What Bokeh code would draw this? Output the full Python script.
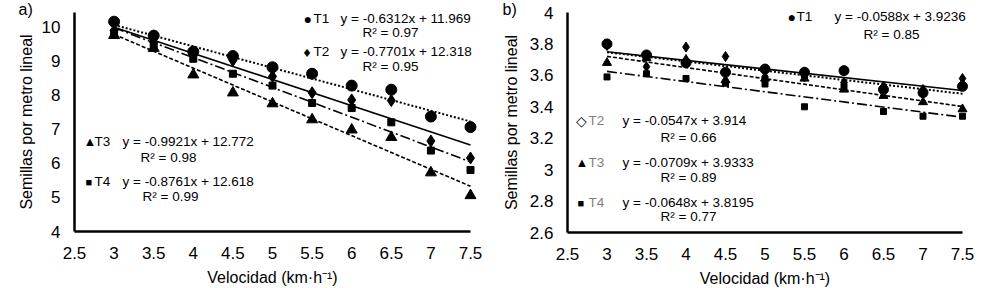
import numpy as np
from bokeh.plotting import figure
from bokeh.models import Label, FixedTicker, NumeralTickFormatter, Range1d, LinearAxis
from bokeh.layouts import row
from bokeh.embed import file_html
from bokeh.resources import INLINE

# ---------------- data ----------------
speed = [3, 3.5, 4, 4.5, 5, 5.5, 6, 6.5, 7, 7.5]
treatments = ["T1", "T2", "T3", "T4"]

a_T1 = [10.17, 9.76, 9.29, 9.16, 8.83, 8.64, 8.29, 8.17, 7.38, 7.07]
a_T2 = [9.91, 9.57, 9.23, 9.03, 8.56, 8.08, 7.87, 7.85, 6.66, 6.16]
a_T3 = [9.77, 9.39, 8.61, 8.08, 7.76, 7.29, 6.99, 6.77, 5.73, 5.06]
a_T4 = [9.85, 9.50, 9.08, 8.64, 8.29, 7.78, 7.63, 7.21, 6.38, 5.81]
a_slope = [-0.6312, -0.7701, -0.9921, -0.8761]
a_intercept = [11.969, 12.318, 12.772, 12.618]
a_r2 = ["0.97", "0.95", "0.98", "0.99"]

b_T1 = [3.80, 3.73, 3.68, 3.62, 3.64, 3.62, 3.63, 3.51, 3.49, 3.53]
b_T2 = [3.79, 3.655, 3.78, 3.72, 3.59, 3.59, 3.555, 3.53, 3.51, 3.58]
b_T3 = [3.68, 3.71, 3.70, 3.57, 3.58, 3.58, 3.51, 3.47, 3.43, 3.385]
b_T4 = [3.59, 3.61, 3.58, 3.55, 3.545, 3.40, 3.53, 3.37, 3.34, 3.34]
b_slope = [-0.0588, -0.0547, -0.0709, -0.0648]
b_intercept = [3.9236, 3.914, 3.9333, 3.8195]
b_r2 = ["0.85", "0.66", "0.89", "0.77"]

x_ticks = [2.5, 3, 3.5, 4, 4.5, 5, 5.5, 6, 6.5, 7, 7.5]
a_y_ticks = [4, 5, 6, 7, 8, 9, 10]
b_y_ticks = [2.6, 2.8, 3.0, 3.2, 3.4, 3.6, 3.8, 4.0]

# ---------------- styles ----------------
FONT = "Liberation Sans"
markers = ["circle", "diamond", "triangle", "square"]
dashes = ["2 2", "solid", "4 2", "10 3 2 3"]
key_glyph_a = ["\u25CF", "\u2666", "\u25B2", "\u25A0"]
key_glyph_b = ["\u25CF", "\u25C7", "\u25B2", "\u25A0"]
key_size = ["14px", "14px", "13px", "11px"]
W, H = 494, 288


def make_panel(series, slopes, intercepts, r2s, yr, yticks, frame, msizes,
               ann, keys, tag, tag_pos, gray_names, ylab_standoff):
    left, right, top, bottom = frame
    x0, x1 = 2.5, 7.5
    y0, y1 = yr
    xs = (x1 - x0) / (right - left)
    ys_ = (y1 - y0) / (bottom - top)
    p = figure(width=W, height=H, output_backend="svg", toolbar_location=None,
               x_range=Range1d(x0 - left * xs, x1 + (W - right) * xs),
               y_range=Range1d(y0 - (H - bottom) * ys_, y1 + top * ys_),
               x_axis_location=None, y_axis_location=None, min_border=0,
               background_fill_color="white", border_fill_color="white")
    p.outline_line_color = None
    p.grid.visible = False

    def px(sx, sy):
        return x0 + (sx - left) * xs, y0 + (bottom - sy) * ys_

    # trend lines
    xl = np.array([speed[0], speed[-1]])
    for s, c, d in zip(slopes, intercepts, dashes):
        p.line(xl, s * xl + c, line_color="black", line_width=1.6 if d != "2 2" else 2,
               line_dash=d)
    # points
    for yv, m, ms in zip(series, markers, msizes):
        p.scatter(speed, yv, marker=m, size=ms, fill_color="black", line_color="black")

    # axes (fixed at the data origin so that the frame fills the canvas)
    xaxis = LinearAxis(fixed_location=y0, bounds=(x0, x1), ticker=FixedTicker(ticks=x_ticks))
    yaxis = LinearAxis(fixed_location=x0, bounds=(y0, y1), ticker=FixedTicker(ticks=yticks))
    for ax in (xaxis, yaxis):
        ax.axis_line_color = "black"
        ax.axis_line_width = 2.5
        ax.major_tick_line_color = None
        ax.minor_tick_line_color = None
        ax.major_label_text_font = FONT
        ax.major_label_text_font_size = "17px"
        ax.major_label_text_color = "black"
        ax.axis_label_text_font = FONT
        ax.axis_label_text_font_size = "16px"
        ax.axis_label_text_font_style = "normal"
        ax.axis_label_text_color = "black"
        ax.formatter = NumeralTickFormatter(format="0.[0]")
    xaxis.major_label_standoff = 9
    yaxis.major_label_standoff = 8
    xaxis.axis_label = "Velocidad (km\u00B7h\u207B\u00B9)"
    yaxis.axis_label = "Semillas por metro lineal"
    xaxis.axis_label_standoff = 7
    yaxis.axis_label_standoff = ylab_standoff
    p.add_layout(xaxis, "below")
    p.add_layout(yaxis, "left")

    # equations
    for i, (s, c, r2) in enumerate(zip(slopes, intercepts, r2s)):
        kx, tx, ex, ey, rx, ry = ann[i]
        x, y = px(kx, ey)
        p.add_layout(Label(x=x, y=y, text=keys[i], text_font=FONT, text_font_size=key_size[i],
                           text_baseline="middle", text_color="black"))
        x, y = px(tx, ey)
        p.add_layout(Label(x=x, y=y, text=treatments[i], text_font=FONT, text_font_size="13.5px",
                           text_baseline="middle",
                           text_color="#7f7f7f" if i in gray_names else "black"))
        x, y = px(ex, ey)
        p.add_layout(Label(x=x, y=y, text=f"y = {s}x + {c}", text_font=FONT,
                           text_font_size="13.5px", text_baseline="middle", text_color="black"))
        x, y = px(rx, ry)
        p.add_layout(Label(x=x, y=y, text=f"R\u00B2 = {r2}", text_font=FONT,
                           text_font_size="13.5px", text_baseline="middle", text_color="black"))
    x, y = px(*tag_pos)
    p.add_layout(Label(x=x, y=y, text=tag, text_font=FONT, text_font_size="16px",
                       text_baseline="middle", text_color="black"))
    return p


ann_a = [
    (303, 313, 340, 18, 362, 32),
    (303, 313, 340, 51, 362, 66),
    (83, 94, 122, 141, 140, 157),
    (85, 94, 122, 181, 142, 196),
]
ann_b = [
    (788 - 495, 797 - 495, 835 - 495, 16, 864 - 495, 34),
    (576 - 495, 589 - 495, 623 - 495, 120, 661 - 495, 137),
    (576 - 495, 589 - 495, 623 - 495, 162, 661 - 495, 177),
    (578 - 495, 589 - 495, 623 - 495, 202, 661 - 495, 216),
]

pa = make_panel([a_T1, a_T2, a_T3, a_T4], a_slope, a_intercept, a_r2,
                (4, 10.44), a_y_ticks, (74, 470, 12, 231), [11, 12, 11, 7],
                ann_a, key_glyph_a, "a)", (18, 9), [], 4)
pb = make_panel([b_T1, b_T2, b_T3, b_T4], b_slope, b_intercept, b_r2,
                (2.6, 4.0), b_y_ticks, (73, 468, 12, 232), [10, 10, 9, 6],
                ann_b, key_glyph_b, "b)", (8, 9), [1, 2, 3], 7)

layout = row(pa, pb)
open("out.html", "w").write(file_html(layout, INLINE))
